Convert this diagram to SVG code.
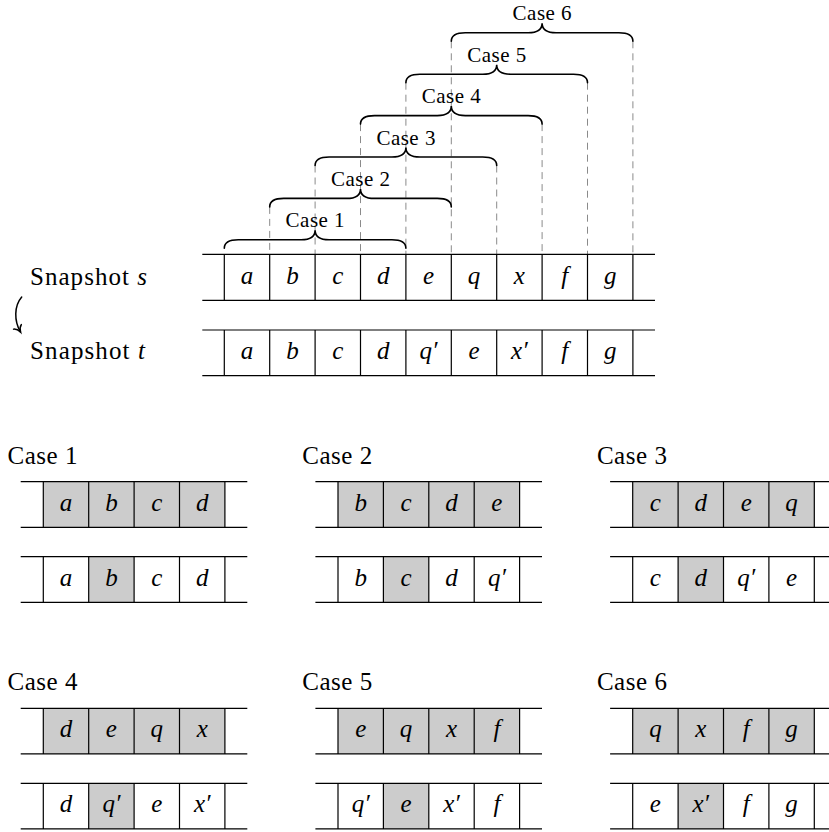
<svg xmlns="http://www.w3.org/2000/svg" xmlns:xlink="http://www.w3.org/1999/xlink" width="829" height="832" viewBox="0 0 829 832">
  <style>
    .txt { font-family: 'Liberation Serif', 'DejaVu Serif', serif; fill: #000; }
    .lbl { font-size: 25px; }
    .small { font-size: 21px; text-anchor: middle; }
    .cell { font-family: 'Liberation Serif', 'DejaVu Serif', serif; font-style: italic; font-size: 25px; text-anchor: middle; fill: #000; }
    .rule { stroke: #000; stroke-width: 1.2; fill: none; }
    .hl { fill: #cccccc; stroke: none; }
    .dash { stroke: #8a8a8a; stroke-width: 1; stroke-dasharray: 7 5; fill: none; }
    .brace { stroke: #000; stroke-width: 1.6; fill: none; stroke-linecap: round; }
    .arrow { stroke: #000; stroke-width: 1.5; fill: none; stroke-linecap: round; }
  </style>
  <defs>
    <!-- curly brace spanning four cells, drawn from its left foot at (0,0) -->
    <path id="brace" d="M0,0 C0,-6 5,-8.5 14,-8.5 L76.8,-8.5 C85.8,-8.5 90.8,-11 90.8,-18 C90.8,-11 95.8,-8.5 104.8,-8.5 L167.6,-8.5 C176.6,-8.5 181.6,-6 181.6,0"/>
    <marker id="tip" markerUnits="userSpaceOnUse" markerWidth="20" markerHeight="20" refX="0" refY="0" orient="auto" overflow="visible">
      <path d="M-6,-4.5 C-4.5,-1.5 -1.5,-0.4 0,0 C-1.5,0.4 -4.5,1.5 -6,4.5" stroke="#000" stroke-width="1.5" fill="none" stroke-linecap="round"/>
    </marker>
  </defs>

  <!-- dashed guides from the brace feet down to the top row -->
  <g id="connectors">
    <line class="dash" x1="269.7" y1="206.9" x2="269.7" y2="254.3"/>
    <line class="dash" x1="315.1" y1="165.5" x2="315.1" y2="254.3"/>
    <line class="dash" x1="360.5" y1="124.1" x2="360.5" y2="254.3"/>
    <line class="dash" x1="405.9" y1="82.7" x2="405.9" y2="254.3"/>
    <line class="dash" x1="451.3" y1="41.3" x2="451.3" y2="254.3"/>
    <line class="dash" x1="496.7" y1="165.5" x2="496.7" y2="254.3"/>
    <line class="dash" x1="542.1" y1="124.1" x2="542.1" y2="254.3"/>
    <line class="dash" x1="587.5" y1="82.7" x2="587.5" y2="254.3"/>
    <line class="dash" x1="632.9" y1="41.3" x2="632.9" y2="254.3"/>
    <path class="arrow" d="M21.7,297 C14,306 14,321 20.5,332" marker-end="url(#tip)"/>
  </g>

  <!-- braces with their case labels -->
  <g id="braces">
    <use xlink:href="#brace" class="brace" transform="translate(224.3,248.3)"/>
    <text class="txt small" x="315.1" y="227.3" textLength="59" lengthAdjust="spacing">Case 1</text>
    <use xlink:href="#brace" class="brace" transform="translate(269.7,206.9)"/>
    <text class="txt small" x="360.5" y="185.9" textLength="59" lengthAdjust="spacing">Case 2</text>
    <use xlink:href="#brace" class="brace" transform="translate(315.1,165.5)"/>
    <text class="txt small" x="405.9" y="144.5" textLength="59" lengthAdjust="spacing">Case 3</text>
    <use xlink:href="#brace" class="brace" transform="translate(360.5,124.1)"/>
    <text class="txt small" x="451.3" y="103.1" textLength="59" lengthAdjust="spacing">Case 4</text>
    <use xlink:href="#brace" class="brace" transform="translate(405.9,82.7)"/>
    <text class="txt small" x="496.7" y="61.7" textLength="59" lengthAdjust="spacing">Case 5</text>
    <use xlink:href="#brace" class="brace" transform="translate(451.3,41.3)"/>
    <text class="txt small" x="542.1" y="20.3" textLength="59" lengthAdjust="spacing">Case 6</text>
  </g>

  <!-- snapshot s -->
  <g id="snapshot-s">
    <text class="txt lbl" x="30" y="285" textLength="117" lengthAdjust="spacing">Snapshot <tspan font-style="italic">s</tspan></text>
    <line class="rule" x1="202.3" y1="254.3" x2="655" y2="254.3"/>
    <line class="rule" x1="202.3" y1="300.3" x2="655" y2="300.3"/>
    <path class="rule" d="M224.3,254.3V300.3M269.7,254.3V300.3M315.1,254.3V300.3M360.5,254.3V300.3M405.9,254.3V300.3M451.3,254.3V300.3M496.7,254.3V300.3M542.1,254.3V300.3M587.5,254.3V300.3M632.9,254.3V300.3"/>
    <text class="cell" x="247" y="283.5">a</text>
    <text class="cell" x="292.4" y="283.5">b</text>
    <text class="cell" x="337.8" y="283.5">c</text>
    <text class="cell" x="383.2" y="283.5">d</text>
    <text class="cell" x="428.6" y="283.5">e</text>
    <text class="cell" x="474" y="283.5">q</text>
    <text class="cell" x="519.4" y="283.5">x</text>
    <text class="cell" x="564.8" y="283.5">f</text>
    <text class="cell" x="610.2" y="283.5">g</text>
  </g>

  <!-- snapshot t -->
  <g id="snapshot-t">
    <text class="txt lbl" x="30" y="359" textLength="115" lengthAdjust="spacing">Snapshot <tspan font-style="italic">t</tspan></text>
    <line class="rule" x1="202.3" y1="330" x2="655" y2="330"/>
    <line class="rule" x1="202.3" y1="375.7" x2="655" y2="375.7"/>
    <path class="rule" d="M224.3,330V375.7M269.7,330V375.7M315.1,330V375.7M360.5,330V375.7M405.9,330V375.7M451.3,330V375.7M496.7,330V375.7M542.1,330V375.7M587.5,330V375.7M632.9,330V375.7"/>
    <text class="cell" x="247" y="359.2">a</text>
    <text class="cell" x="292.4" y="359.2">b</text>
    <text class="cell" x="337.8" y="359.2">c</text>
    <text class="cell" x="383.2" y="359.2">d</text>
    <text class="cell" x="428.6" y="359.2">q′</text>
    <text class="cell" x="474" y="359.2">e</text>
    <text class="cell" x="519.4" y="359.2">x′</text>
    <text class="cell" x="564.8" y="359.2">f</text>
    <text class="cell" x="610.2" y="359.2">g</text>
  </g>

  <!-- case 1 -->
  <g id="case-1">
    <text class="txt lbl" x="7.5" y="463.5" textLength="70" lengthAdjust="spacing">Case 1</text>
    <rect class="hl" x="43.3" y="481.7" width="181.6" height="45.6"/>
    <rect class="hl" x="88.7" y="556.7" width="45.4" height="45.6"/>
    <path class="rule" d="M20.7,481.7H247.3M20.7,527.3H247.3M20.7,556.7H247.3M20.7,602.3H247.3M43.3,481.7V527.3M88.7,481.7V527.3M134.1,481.7V527.3M179.5,481.7V527.3M224.9,481.7V527.3M43.3,556.7V602.3M88.7,556.7V602.3M134.1,556.7V602.3M179.5,556.7V602.3M224.9,556.7V602.3"/>
    <text class="cell" x="66" y="510.9">a</text>
    <text class="cell" x="111.4" y="510.9">b</text>
    <text class="cell" x="156.8" y="510.9">c</text>
    <text class="cell" x="202.2" y="510.9">d</text>
    <text class="cell" x="66" y="585.9">a</text>
    <text class="cell" x="111.4" y="585.9">b</text>
    <text class="cell" x="156.8" y="585.9">c</text>
    <text class="cell" x="202.2" y="585.9">d</text>
  </g>

  <!-- case 2 -->
  <g id="case-2" transform="translate(294.7,0)">
    <text class="txt lbl" x="7.5" y="463.5" textLength="70" lengthAdjust="spacing">Case 2</text>
    <rect class="hl" x="43.3" y="481.7" width="181.6" height="45.6"/>
    <rect class="hl" x="88.7" y="556.7" width="45.4" height="45.6"/>
    <path class="rule" d="M20.7,481.7H247.3M20.7,527.3H247.3M20.7,556.7H247.3M20.7,602.3H247.3M43.3,481.7V527.3M88.7,481.7V527.3M134.1,481.7V527.3M179.5,481.7V527.3M224.9,481.7V527.3M43.3,556.7V602.3M88.7,556.7V602.3M134.1,556.7V602.3M179.5,556.7V602.3M224.9,556.7V602.3"/>
    <text class="cell" x="66" y="510.9">b</text>
    <text class="cell" x="111.4" y="510.9">c</text>
    <text class="cell" x="156.8" y="510.9">d</text>
    <text class="cell" x="202.2" y="510.9">e</text>
    <text class="cell" x="66" y="585.9">b</text>
    <text class="cell" x="111.4" y="585.9">c</text>
    <text class="cell" x="156.8" y="585.9">d</text>
    <text class="cell" x="202.2" y="585.9">q′</text>
  </g>

  <!-- case 3 -->
  <g id="case-3" transform="translate(589.4,0)">
    <text class="txt lbl" x="7.5" y="463.5" textLength="70" lengthAdjust="spacing">Case 3</text>
    <rect class="hl" x="43.3" y="481.7" width="181.6" height="45.6"/>
    <rect class="hl" x="88.7" y="556.7" width="45.4" height="45.6"/>
    <path class="rule" d="M20.7,481.7H247.3M20.7,527.3H247.3M20.7,556.7H247.3M20.7,602.3H247.3M43.3,481.7V527.3M88.7,481.7V527.3M134.1,481.7V527.3M179.5,481.7V527.3M224.9,481.7V527.3M43.3,556.7V602.3M88.7,556.7V602.3M134.1,556.7V602.3M179.5,556.7V602.3M224.9,556.7V602.3"/>
    <text class="cell" x="66" y="510.9">c</text>
    <text class="cell" x="111.4" y="510.9">d</text>
    <text class="cell" x="156.8" y="510.9">e</text>
    <text class="cell" x="202.2" y="510.9">q</text>
    <text class="cell" x="66" y="585.9">c</text>
    <text class="cell" x="111.4" y="585.9">d</text>
    <text class="cell" x="156.8" y="585.9">q′</text>
    <text class="cell" x="202.2" y="585.9">e</text>
  </g>

  <!-- case 4 -->
  <g id="case-4" transform="translate(0,226.6)">
    <text class="txt lbl" x="7.5" y="463.5" textLength="70" lengthAdjust="spacing">Case 4</text>
    <rect class="hl" x="43.3" y="481.7" width="181.6" height="45.6"/>
    <rect class="hl" x="88.7" y="556.7" width="45.4" height="45.6"/>
    <path class="rule" d="M20.7,481.7H247.3M20.7,527.3H247.3M20.7,556.7H247.3M20.7,602.3H247.3M43.3,481.7V527.3M88.7,481.7V527.3M134.1,481.7V527.3M179.5,481.7V527.3M224.9,481.7V527.3M43.3,556.7V602.3M88.7,556.7V602.3M134.1,556.7V602.3M179.5,556.7V602.3M224.9,556.7V602.3"/>
    <text class="cell" x="66" y="510.9">d</text>
    <text class="cell" x="111.4" y="510.9">e</text>
    <text class="cell" x="156.8" y="510.9">q</text>
    <text class="cell" x="202.2" y="510.9">x</text>
    <text class="cell" x="66" y="585.9">d</text>
    <text class="cell" x="111.4" y="585.9">q′</text>
    <text class="cell" x="156.8" y="585.9">e</text>
    <text class="cell" x="202.2" y="585.9">x′</text>
  </g>

  <!-- case 5 -->
  <g id="case-5" transform="translate(294.7,226.6)">
    <text class="txt lbl" x="7.5" y="463.5" textLength="70" lengthAdjust="spacing">Case 5</text>
    <rect class="hl" x="43.3" y="481.7" width="181.6" height="45.6"/>
    <rect class="hl" x="88.7" y="556.7" width="45.4" height="45.6"/>
    <path class="rule" d="M20.7,481.7H247.3M20.7,527.3H247.3M20.7,556.7H247.3M20.7,602.3H247.3M43.3,481.7V527.3M88.7,481.7V527.3M134.1,481.7V527.3M179.5,481.7V527.3M224.9,481.7V527.3M43.3,556.7V602.3M88.7,556.7V602.3M134.1,556.7V602.3M179.5,556.7V602.3M224.9,556.7V602.3"/>
    <text class="cell" x="66" y="510.9">e</text>
    <text class="cell" x="111.4" y="510.9">q</text>
    <text class="cell" x="156.8" y="510.9">x</text>
    <text class="cell" x="202.2" y="510.9">f</text>
    <text class="cell" x="66" y="585.9">q′</text>
    <text class="cell" x="111.4" y="585.9">e</text>
    <text class="cell" x="156.8" y="585.9">x′</text>
    <text class="cell" x="202.2" y="585.9">f</text>
  </g>

  <!-- case 6 -->
  <g id="case-6" transform="translate(589.4,226.6)">
    <text class="txt lbl" x="7.5" y="463.5" textLength="70" lengthAdjust="spacing">Case 6</text>
    <rect class="hl" x="43.3" y="481.7" width="181.6" height="45.6"/>
    <rect class="hl" x="88.7" y="556.7" width="45.4" height="45.6"/>
    <path class="rule" d="M20.7,481.7H247.3M20.7,527.3H247.3M20.7,556.7H247.3M20.7,602.3H247.3M43.3,481.7V527.3M88.7,481.7V527.3M134.1,481.7V527.3M179.5,481.7V527.3M224.9,481.7V527.3M43.3,556.7V602.3M88.7,556.7V602.3M134.1,556.7V602.3M179.5,556.7V602.3M224.9,556.7V602.3"/>
    <text class="cell" x="66" y="510.9">q</text>
    <text class="cell" x="111.4" y="510.9">x</text>
    <text class="cell" x="156.8" y="510.9">f</text>
    <text class="cell" x="202.2" y="510.9">g</text>
    <text class="cell" x="66" y="585.9">e</text>
    <text class="cell" x="111.4" y="585.9">x′</text>
    <text class="cell" x="156.8" y="585.9">f</text>
    <text class="cell" x="202.2" y="585.9">g</text>
  </g>
</svg>
